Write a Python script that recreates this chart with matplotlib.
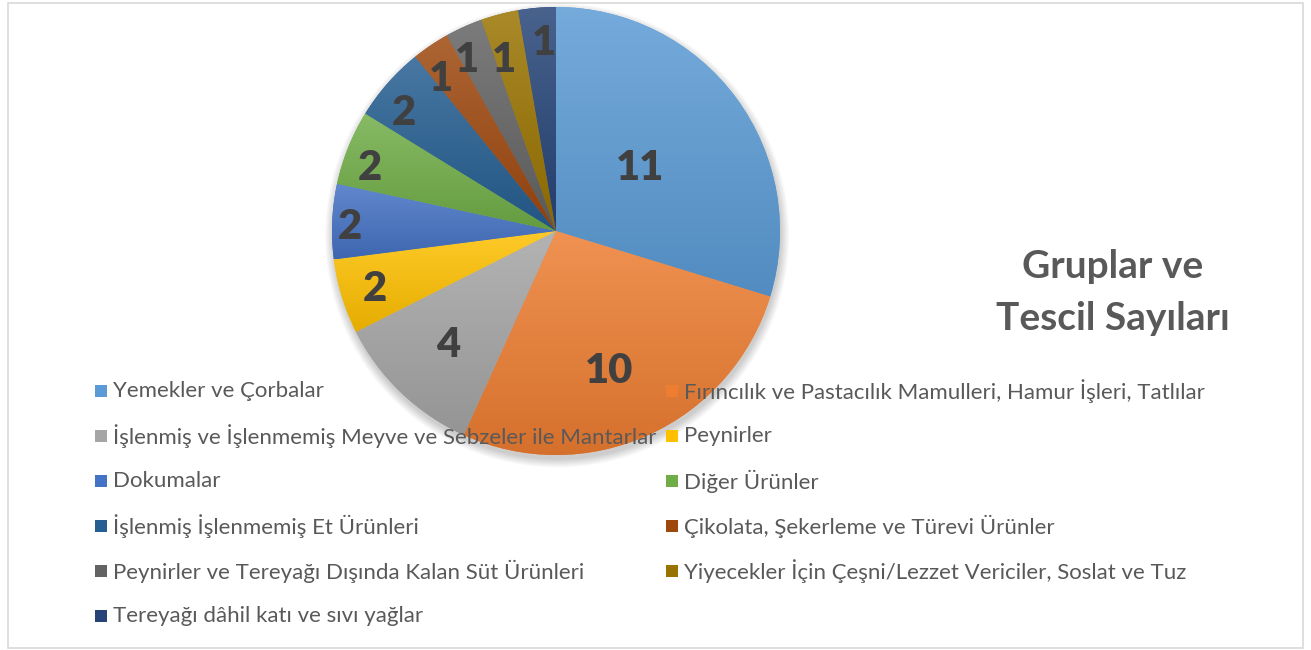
import numpy as np
import matplotlib.pyplot as plt
from matplotlib.colors import to_rgb
from matplotlib.patches import Rectangle, Circle

# data
categories = [
    'Yemekler ve Çorbalar',
    'Fırıncılık ve Pastacılık Mamulleri, Hamur İşleri, Tatlılar',
    'İşlenmiş ve İşlenmemiş Meyve ve Sebzeler ile Mantarlar',
    'Peynirler',
    'Dokumalar',
    'Diğer Ürünler',
    'İşlenmiş İşlenmemiş Et Ürünleri',
    'Çikolata, Şekerleme ve Türevi Ürünler',
    'Peynirler ve Tereyağı Dışında Kalan Süt Ürünleri',
    'Yiyecekler İçin Çeşni/Lezzet Vericiler, Soslat ve Tuz',
    'Tereyağı dâhil katı ve sıvı yağlar',
]
counts = [11, 10, 4, 2, 2, 2, 2, 1, 1, 1, 1]
title_lines = ['Gruplar ve', 'Tescil Sayıları']

# style
colors = ['#5B9BD5', '#ED7D31', '#A5A5A5', '#FFC000', '#4472C4', '#70AD47',
          '#255E91', '#9E480E', '#636363', '#997300', '#264478']
# label placement: radius (fraction of R) and angle nudge (deg) per slice
label_dist = [0.47, 0.67, 0.70, 0.85, 0.92, 0.875, 0.86, 0.85, 0.86, 0.80, 0.84]
label_nudge = [0.4, -3.7, 0.3, 0.7, 1.4, 3.2, 3.4, 3.0, 3.2, 2.4, -1.3]
FONT = 'Lato'
TXT = '#595959'

W, H = 1311, 650
fig = plt.figure(figsize=(W / 100, H / 100), dpi=100)


def fx(x):
    return x / W


def fy(y):
    return 1 - y / H


# outer frame
fig.patches.append(Rectangle((fx(8), fy(648)), fx(1303) - fx(8), fy(3) - fy(648),
                             transform=fig.transFigure, fill=False,
                             edgecolor='#D9D9D9', linewidth=1.2))

cx, cy, R = 556, 231, 224
pad = 1.1
ax = fig.add_axes([fx(cx - R * pad), fy(cy + R * pad), 2 * R * pad / W, 2 * R * pad / H])

# soft shadow
for k in range(10):
    ax.add_patch(Circle((0.005, -0.02), 1.0 + 0.004 * k, color='k',
                        alpha=0.018, zorder=0, linewidth=0))

wedges, _ = ax.pie(counts, colors=colors, startangle=90, counterclock=False,
                   radius=1, wedgeprops=dict(linewidth=0))

# vertical gradient inside each slice
grad = np.linspace(0, 1, 256)[:, None, None]
for w, col in zip(wedges, colors):
    c = np.array(to_rgb(col))
    top = c + (1 - c) * 0.16
    bot = c * 0.9
    img = top * (1 - grad) + bot * grad
    th = np.radians(np.linspace(w.theta1, w.theta2, 60))
    xs = np.concatenate([[0], np.cos(th)])
    ys = np.concatenate([[0], np.sin(th)])
    im = ax.imshow(img, extent=[xs.min(), xs.max(), ys.min(), ys.max()],
                   origin='upper', aspect='auto', zorder=2, interpolation='bilinear')
    im.set_clip_path(w)

# value labels
for w, v, d, n in zip(wedges, counts, label_dist, label_nudge):
    a = np.radians((w.theta1 + w.theta2) / 2 + n)
    ax.text(d * np.cos(a), d * np.sin(a), str(v), ha='center', va='center',
            fontsize=30, fontweight='heavy', color='#404040', family=FONT, zorder=5)

ax.set_xlim(-pad, pad)
ax.set_ylim(-pad, pad)
ax.set_aspect('equal')
ax.axis('off')

# legend (two columns, row-major like Excel)
for i, (name, col) in enumerate(zip(categories, colors)):
    row, c = divmod(i, 2)
    y = 391 + 45 * row
    mx = 95 if c == 0 else 666
    tx = 113 if c == 0 else 684
    cc = np.array(to_rgb(col))
    fig.patches.append(Rectangle((fx(mx), fy(y + 6)), 12 / W, 12 / H,
                                 transform=fig.transFigure, facecolor=cc,
                                 edgecolor='none'))
    fig.text(fx(tx), fy(y), name, ha='left', va='center', fontsize=16,
             color=TXT, family=FONT)

# title
fig.text(fx(1113), fy(266), title_lines[0], ha='center', va='center',
         fontsize=28, fontweight='bold', color=TXT, family=FONT)
fig.text(fx(1113), fy(318), title_lines[1], ha='center', va='center',
         fontsize=28, fontweight='bold', color=TXT, family=FONT)

fig.savefig('out.png', dpi=100)
